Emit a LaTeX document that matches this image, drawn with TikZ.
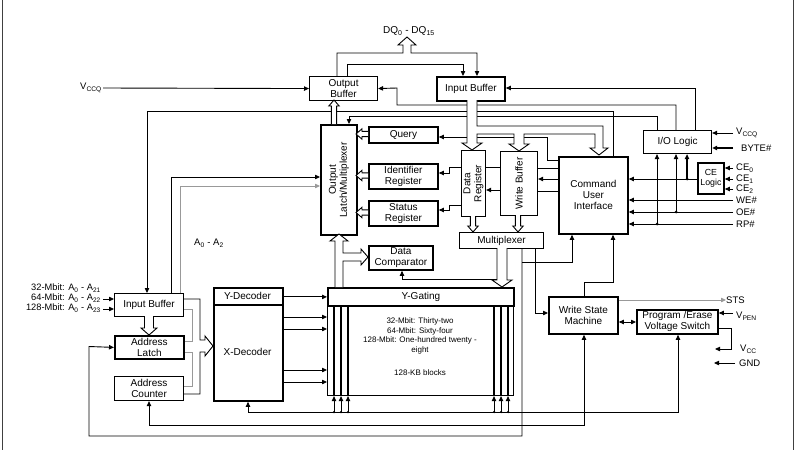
\documentclass[tikz,border=0pt]{standalone}
\usepackage{fontspec}
\setmainfont{Liberation Sans}
\usetikzlibrary{arrows.meta,calc}
\newcommand\sbs[1]{\textsubscript{#1}}
\tikzset{
  pics/harr/.style={code={\draw[holl] (0,-2.6) -- (#1-6,-2.6) -- (#1-6,-5.2) -- (#1,0) -- (#1-6,5.2) -- (#1-6,2.6) -- (0,2.6);}},
  pics/harrb/.style={code={\draw[holl] (0,-4.5) -- (#1-7,-4.5) -- (#1-7,-8) -- (#1,0) -- (#1-7,8) -- (#1-7,4.5) -- (0,4.5);}},
}
\begin{document}
\begin{tikzpicture}[x=1pt,y=-1pt,
  font=\fontsize{10}{11}\selectfont,
  box/.style={draw, line width=1.1pt, inner sep=0pt, align=center, anchor=north west},
  tbox/.style={box, line width=1.8pt},
  ln/.style={line width=0.9pt},
  gl/.style={line width=0.9pt, draw=black!40},
  tip/.style={-{Triangle[length=5pt,width=4.4pt]}},
  arr/.style={ln, tip},
  garr/.style={gl, -{Triangle[length=5pt,width=4.4pt]}},
  tarr/.style={ln, {Triangle[length=5pt,width=4.4pt]}-{Triangle[length=5pt,width=4.4pt]}},
  dot/.style={circle, fill, inner sep=0pt, minimum size=3pt},
  lbl/.style={inner sep=0pt, anchor=west, font=\fontsize{9.5}{10}\selectfont},
  holl/.style={draw, line width=0.9pt, fill=white},
]
\useasboundingbox (0,0) rectangle (800,450);
\fill[white] (0,0) rectangle (800,450);
% frame
\draw[line width=1pt, black!75] (2,0) -- (2,450);
\draw[line width=1pt, black!75] (793,0) -- (793,450);

% ---------- boxes ----------
\node[box, minimum width=68pt, minimum height=24pt] (outbuf) at (309,76) {Output\\Buffer};
\node[tbox, minimum width=68pt, minimum height=24pt] (inbuf) at (436,76) {Input Buffer};
\node[tbox, minimum width=36pt, minimum height=110pt] (olm) at (320,124) {};
\node[rotate=90, align=center, inner sep=0pt] (olmt) at (olm.center) {Output\\Latch/Multiplexer};
\node[tbox, minimum width=69pt, minimum height=16pt] (query) at (368,126) {Query};
\node[tbox, minimum width=69pt, minimum height=25pt] (idreg) at (368,163) {Identifier\\Register};
\node[tbox, minimum width=69pt, minimum height=25pt] (streg) at (368,200) {Status\\Register};
\node[box, minimum width=24pt, minimum height=66pt] (datareg) at (461,150) {};
\node[rotate=90, align=center, inner sep=0pt] (dataregt) at (datareg.center) {Data\\Register};
\node[box, minimum width=37pt, minimum height=64pt] (wbuf) at (500,151) {};
\node[rotate=90, inner sep=0pt] (wbuft) at (wbuf.center) {Write Buffer};
\node[tbox, minimum width=69pt, minimum height=77pt] (cui) at (558,156) {Command\\User\\Interface};
\node[box, minimum width=68pt, minimum height=23pt] (iolog) at (643,130) {I/O Logic};
\node[tbox, minimum width=26pt, minimum height=31pt, font=\fontsize{8.8}{10.5}\selectfont] (celog) at (697,162) {CE\\Logic};
\node[box, minimum width=84pt, minimum height=16pt] (mux) at (459,232) {Multiplexer};
\node[tbox, minimum width=64pt, minimum height=24pt] (dcomp) at (368,245) {Data\\Comparator};
\node[tbox, minimum width=186pt, minimum height=18pt] (ygate) at (327,287) {Y-Gating};
\node[box, minimum width=186pt, minimum height=90pt] (array) at (327,305) {};
\node[align=center, inner sep=0pt, font=\fontsize{8}{9.4}\selectfont] (arrt) at (420,336)
  {32-Mbit: Thirty-two\\64-Mbit: Sixty-four\\128-Mbit: One-hundred twenty -\\eight};
\node[inner sep=0pt, font=\fontsize{8}{9.4}\selectfont] (arrb) at (420,373) {128-KB blocks};
\node[tbox, minimum width=69pt, minimum height=113pt] (xdec) at (213,287) {};
\draw[line width=1.6pt] (xdec.west |- 0,305) -- (xdec.east |- 0,305);
\node (ydect) at (247.5,296) {Y-Decoder};
\node (xdect) at (247.5,352) {X-Decoder};
\node[box, minimum width=69pt, minimum height=23pt] (inbufA) at (114,293) {Input Buffer};
\node[tbox, minimum width=69pt, minimum height=23pt] (alatch) at (114,335) {Address\\Latch};
\node[box, minimum width=69pt, minimum height=24pt] (acount) at (114,376) {Address\\Counter};
\node[tbox, minimum width=69pt, minimum height=37pt] (wsm) at (548,296) {Write State\\Machine};
\node[tbox, minimum width=81pt, minimum height=24pt] (pevs) at (636,309) {Program /Erase\\Voltage Switch};

% ---------- labels ----------
\node (dq) at (409,31) {DQ\sbs{0} - DQ\sbs{15}};
\node[anchor=east, inner sep=1pt, font=\fontsize{9.5}{10}\selectfont] (vccqL) at (103,88) {V\sbs{CCQ}};
\node[font=\fontsize{9.5}{10}\selectfont] (a02) at (209,243) {A\sbs{0} - A\sbs{2}};
\node[anchor=east, inner sep=0pt, font=\fontsize{9.3}{10}\selectfont] (ad32) at (101,288) {32-Mbit: A\sbs{0} - A\sbs{21}};
\node[anchor=east, inner sep=0pt, font=\fontsize{9.3}{10}\selectfont] (ad64) at (101,298) {64-Mbit: A\sbs{0} - A\sbs{22}};
\node[anchor=east, inner sep=0pt, font=\fontsize{9.3}{10}\selectfont] (ad128) at (101,308) {128-Mbit: A\sbs{0} - A\sbs{23}};
\node[lbl] (vccqR) at (736,133) {V\sbs{CCQ}};
\node[lbl] (byte) at (741,148) {BYTE\#};
\node[lbl] (ce0) at (736,168) {CE\sbs{0}};
\node[lbl] (ce1) at (736,179) {CE\sbs{1}};
\node[lbl] (ce2) at (736,189) {CE\sbs{2}};
\node[lbl] (we) at (736,200) {WE\#};
\node[lbl] (oe) at (736,212) {OE\#};
\node[lbl] (rp) at (736,224) {RP\#};
\node[lbl] (sts) at (726,300) {STS};
\node[lbl] (vpen) at (736,316) {V\sbs{PEN}};
\node[lbl] (vcc) at (740,349) {V\sbs{CC}};
\node[lbl] (gnd) at (739,363) {GND};

% ---------- top connectors ----------
\draw[arr] (outbuf.north -| 337,0) -- (337,53) -- (403,53) -- (403,45) -- (398,45) -- (407,37)
  -- (416,45) -- (411,45) -- (411,53) -- (477,53) -- (inbuf.north -| 477,0);
\draw[arr] (outbuf.north -| 347,0) -- (347,64) -- (463,64) -- (inbuf.north -| 463,0);
\draw[arr] (vccqL.east) -- (outbuf.west);
\draw[arr] (iolog.north -| 695,0) -- (695,88) -- (inbuf.east |- 0,88);
\draw[arr] (iolog.north -| 676,0) -- (676,105) -- (397,105) -- (397,88) -- (outbuf.east);
\draw[arr] (iolog.north -| 657,0) -- (657,116) -- (349,116) -- (olm.north -| 349,0);
\draw[arr] (cui.north -| 613,0) -- (613,111) -- (147,111) -- (inbufA.north -| 147,0);
\draw[arr] (inbufA.north -| 171,0) -- (171,177) -- (olm.west |- 0,177);
\draw[garr] (inbufA.north -| 180,0) -- (180,186) -- (olm.west |- 0,186);
\pic[rotate=90] at (334,124) {harr=24};

% registers
\pic[rotate=180] at (368,134) {harr=12};
\pic[rotate=180] at (368,175.5) {harr=12};
\pic[rotate=180] at (368,212.5) {harr=12};
\draw[arr] (datareg.west |- 0,167) -- (449,167) -- (449,173) -- (idreg.east |- 0,173);
\draw[arr] (datareg.west |- 0,205) -- (449,205) -- (449,210) -- (streg.east |- 0,210);
\draw[arr] (cui.west |- 0,160) -- (547,160) -- (547,137) -- (query.east |- 0,137);
\draw[ln] (datareg.east |- 0,167) -- (wbuf.west |- 0,167);
\draw[arr] (wbuf.west |- 0,190) -- (datareg.east |- 0,190);
\draw[ln] (wbuf.east |- 0,168) -- (cui.west |- 0,168);
\draw[arr] (cui.west |- 0,179) -- (wbuf.east |- 0,179);
\draw[ln] (wbuf.east |- 0,191) -- (cui.west |- 0,191);
\pic[rotate=-90] at (473,216) {harr=16};
\pic[rotate=-90] at (518,215) {harr=17};

% input data bus
\draw[holl] (467,100) -- (467,143) -- (462,143) -- (472,150) -- (482,143) -- (477,143) -- (477,134)
  -- (514,134) -- (514,144) -- (509,144) -- (519,151) -- (529,144) -- (524,144) -- (524,134)
  -- (595,134) -- (595,148) -- (590,148) -- (599,155) -- (608,148) -- (603,148) -- (603,126)
  -- (477,126) -- (477,100);

% right side
\draw[arr] (733,133) -- (iolog.east |- 0,133);
\draw[ln, line width=1.6pt, tip] (733,148) -- (iolog.east |- 0,148);
\foreach \yy in {168,179,189} \draw[arr] (733,\yy) -- (celog.east |- 0,\yy);
\draw[arr] (celog.west |- 0,179) -- (cui.east |- 0,179);
\draw[arr] (733,200) -- (cui.east |- 0,200);
\draw[arr] (733,212) -- (cui.east |- 0,212);
\draw[arr] (733,224) -- (cui.east |- 0,224);
\draw[line width=1.6pt, tip] (687,179) -- (iolog.south -| 687,0);
\draw[arr] (676,212) -- (iolog.south -| 676,0);
\draw[arr] (657,224) -- (iolog.south -| 657,0);
\node[dot] (j1) at (687,179) {};
\node[dot] (j2) at (676,212) {};
\node[dot] (j3) at (657,224) {};

% middle
\draw[arr] (497,279) -- (402,279) -- (dcomp.south -| 402,0);
\draw[holl] (497,248) -- (497,280) -- (492,280) -- (502,287) -- (512,280) -- (507,280) -- (507,248);
\draw[holl] (335,287) -- (335,241) -- (330,241) -- (339,234) -- (348,241) -- (343,241) -- (343,253)
  -- (361,253) -- (361,249) -- (368,257) -- (361,265) -- (361,261) -- (343,261) -- (343,287);
\draw[arr] (522,262) -- (572,262) -- (cui.south -| 572,0);
\draw[arr] (mux.south -| 522,0) -- (522,436) -- (89,436) -- (89,346.5) -- (alatch.west);
\draw[arr] (wsm.north -| 584,0) -- (584,282) -- (613,282) -- (cui.south -| 613,0);
\draw[arr] (mux.south -| 535,0) -- (535,313) -- (wsm.west |- 0,313);
\draw[garr] (wsm.east |- 0,300) -- (sts.west);
\draw[tarr] (wsm.east |- 0,322) -- (pevs.west |- 0,322);
\draw[arr] (733,313) -- (pevs.east |- 0,313);
\draw[arr] (pevs.east |- 0,328) -- (731,328) -- (731,349) -- (715,349);
\draw[arr] (735,363) -- (714,363);

% array
\foreach \xx in {334,341,348,494,501,508} \draw[line width=1.4pt] (\xx,305) -- (\xx,395);
\draw[arr] (xdec.east |- ygate.west) -- (ygate.west);
\foreach \yy in {317,329,370,382} \draw[arr] (xdec.east |- 0,\yy) -- (array.west |- 0,\yy);

% bottom lines
\draw[tarr] (xdec.south -| 248,0) -- (248,412) -- (678,412) -- (pevs.south -| 678,0);
\foreach \xx in {334,341,348,494,501,508} {
  \draw[arr] (\xx,412) -- (array.south -| \xx,0);
  \node[dot, minimum size=2.5pt] at (\xx,412) {};
}
\draw[tarr] (acount.south -| 149,0) -- (149,425) -- (584,425) -- (wsm.south -| 584,0);

% address section
\draw[arr] (103,299) -- (inbufA.west |- 0,299);
\draw[arr] (103,309) -- (inbufA.west |- 0,309);
\pic[rotate=-90] at (149,316) {harrb=19};
\draw[ln] (inbufA.east |- 0,299) -- (200,299) -- (200,340) -- (205,340) -- (205,336) -- (xdec.west |- 0,346)
  -- (205,356) -- (205,352) -- (200,352) -- (200,394) -- (acount.east |- 0,394);
\draw[gl] (inbufA.east |- 0,309) -- (192,309) -- (192,341) -- (alatch.east |- 0,341);
\draw[gl] (alatch.east |- 0,352) -- (192,352) -- (192,386) -- (acount.east |- 0,386);
\end{tikzpicture}
\end{document}
